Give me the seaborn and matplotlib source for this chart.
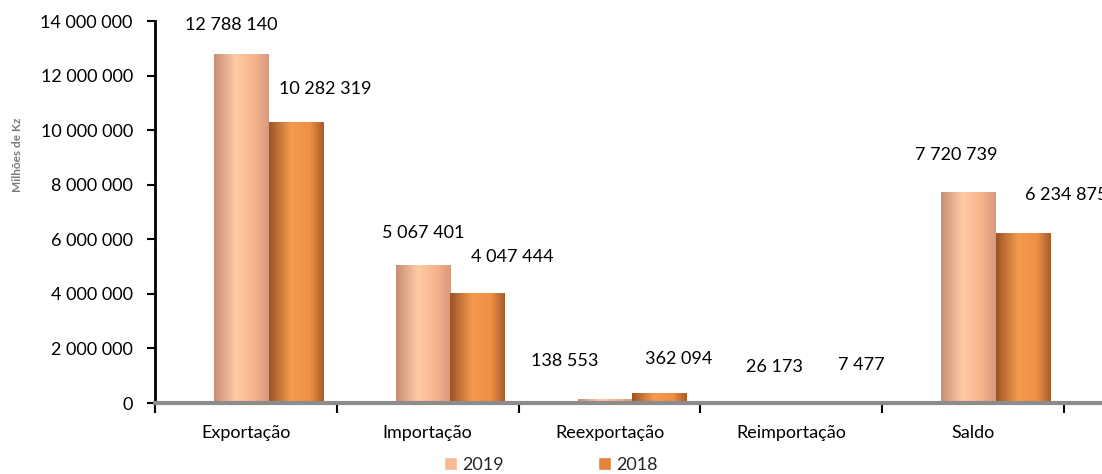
import numpy as np
import pandas as pd
import matplotlib
matplotlib.use("Agg")
import matplotlib.pyplot as plt
import seaborn as sns
from matplotlib.ticker import FuncFormatter, FixedLocator
from matplotlib.patches import Patch
from matplotlib.colors import to_rgb

categorias = ["Exportação", "Importação", "Reexportação", "Reimportação", "Saldo"]
anos = ["2019", "2018"]
valores_2019 = [12788140, 5067401, 138553, 26173, 7720739]
valores_2018 = [10282319, 4047444, 362094, 7477, 6234875]

# deslocamento dos rotulos (px) em relacao ao topo de cada barra, ordem: categoria x ano
rotulo_dx = [[-10, 29], [0, 35], [-40, 19], [-12, 20], [-12, 43]]
rotulo_dy = [[29, 33], [32, 36], [38, 34], [35, 38], [37, 38]]

cores = {"2019": "#F9B994", "2018": "#E0843E"}
# gradiente horizontal de cada barra (borda esq., centro, borda dir.)
gradientes = {
    "2019": ["#C98E76", "#FFCBA6", "#F6B28C", "#D89A7E"],
    "2018": ["#9C5526", "#F59A4E", "#EE9045", "#A85E2A"],
}

df = pd.DataFrame({
    "categoria": categorias * 2,
    "ano": ["2019"] * len(categorias) + ["2018"] * len(categorias),
    "valor": valores_2019 + valores_2018,
})

sns.set_theme(style="white")
plt.rcParams["font.family"] = ["Lato", "DejaVu Sans"]
fs = 13

fig = plt.figure(figsize=(11.02, 4.74), dpi=100)
ax = fig.add_axes([155 / 1102, 1 - 403 / 474, 947 / 1102, 382 / 474])

sns.barplot(data=df, x="categoria", y="valor", hue="ano", hue_order=anos,
            palette=cores, width=0.6, dodge=True, ax=ax, legend=False,
            saturation=1, edgecolor="none")

# barras ligeiramente deslocadas para a direita, como no original
for p in ax.patches:
    p.set_x(p.get_x() + 0.125)

ax.set_ylim(0, 14000000)
ax.set_xlim(-0.5, 4.5 + 38 / 182)

# efeito de gradiente por cima das barras
barras = list(ax.patches)
t = np.linspace(0, 1, 64)
for j, ano in enumerate(anos):
    stops = np.array([to_rgb(c) for c in gradientes[ano]])
    pos = [0, 0.4, 0.75, 1]
    img = np.stack([np.interp(t, pos, stops[:, k]) for k in range(3)], axis=-1)[None, :, :]
    for i in range(len(categorias)):
        p = barras[j * len(categorias) + i]
        x0, w, h = p.get_x(), p.get_width(), p.get_height()
        if h <= 0:
            continue
        im = ax.imshow(img, extent=[x0, x0 + w, 0, h], aspect="auto", zorder=p.get_zorder() + 0.1,
                       interpolation="bilinear")
        im.set_clip_path(p)
ax.set_ylim(0, 14000000)
ax.set_xlim(-0.5, 4.5 + 38 / 182)

ax.yaxis.set_major_locator(FixedLocator(range(0, 14000001, 2000000)))
ax.yaxis.set_major_formatter(FuncFormatter(lambda v, _: f"{int(v):,}".replace(",", " ")))

ax.set_xticks(range(len(categorias)))
ax.set_xticklabels(categorias, fontsize=fs, color="black")
ax.set_xticks([i - 0.5 for i in range(len(categorias) + 1)], minor=True)
ax.tick_params(axis="x", which="major", length=0, pad=16, bottom=False)
ax.tick_params(axis="x", which="minor", length=7, width=1.5, color="black",
               direction="out", bottom=True)
ax.tick_params(axis="y", length=6, width=1.5, color="black", direction="out",
               labelsize=fs, labelcolor="black", left=True, pad=10)
ax.set_xlabel("")
ax.set_ylabel("Milhões de Kz", fontsize=8.5, color="#7A7A7A", fontweight="bold")
ax.yaxis.set_label_coords(-0.139, 0.65)

for s in ["top", "right"]:
    ax.spines[s].set_visible(False)
ax.spines["left"].set_color("black")
ax.spines["left"].set_linewidth(2)
ax.spines["left"].set_zorder(5)
ax.spines["bottom"].set_color("#8C8C8C")
ax.spines["bottom"].set_linewidth(3)
ax.spines["bottom"].set_zorder(5)

for j, ano in enumerate(anos):
    vals = valores_2019 if ano == "2019" else valores_2018
    for i, v in enumerate(vals):
        p = barras[j * len(categorias) + i]
        cx = p.get_x() + p.get_width() / 2
        ax.annotate(f"{v:,}".replace(",", " "), (cx, v),
                    xytext=(rotulo_dx[i][j], rotulo_dy[i][j]),
                    textcoords="offset pixels", ha="center", va="center",
                    fontsize=fs, color="black", annotation_clip=False)

handles = [Patch(facecolor=cores[a], label=a) for a in anos]
fig.legend(handles=handles, loc="center", bbox_to_anchor=(0.5, 1 - 465 / 474),
           ncol=2, frameon=False, fontsize=fs, handlelength=0.7, handleheight=0.7,
           handletextpad=0.3, columnspacing=5.2)

fig.savefig("out.png", dpi=100)
